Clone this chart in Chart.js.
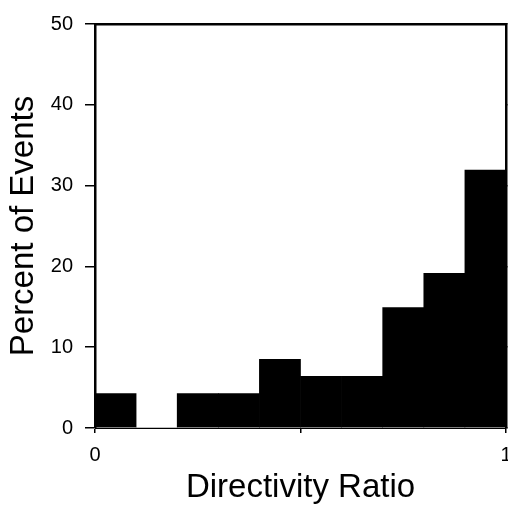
<!DOCTYPE html>
<html lang="en">
<head>
  <meta charset="UTF-8" />
  <title>Directivity Ratio histogram</title>
  <script src="https://cdn.jsdelivr.net/npm/chart.js@4.4.0"></script>
  <style>
    body {
      margin: 0;
      background: white;
    }

    .chart-container {
      width: 508px;
      height: 508px;
    }
  </style>
</head>
<body>
  <div class="chart-container">
    <canvas id="histChart"></canvas>
  </div>

  <script>
    // bins of the directivity ratio, 0 to 1 in steps of 0.1
    const binLabels = ['0.0-0.1', '0.1-0.2', '0.2-0.3', '0.3-0.4', '0.4-0.5',
                       '0.5-0.6', '0.6-0.7', '0.7-0.8', '0.8-0.9', '0.9-1.0'];
    const percentValues = [4.26, 0, 4.26, 4.26, 8.51, 6.38, 6.38, 14.89, 19.15, 31.91];
    const xTickStep = 0.5;
    const xTickLabels = { 0: '0', 1: '1' };
    const yTickStep = 10;
    const yMax = 50;

    const font = "'Liberation Sans', Arial, sans-serif";

    // keep the last x label from pushing the plot inwards
    function noSidePadding(scale) {
      scale.paddingLeft = 0;
      scale.paddingRight = 0;
    }

    const canvas = document.getElementById('histChart');
    const chart = new Chart(canvas.getContext('2d'), {
      type: 'bar',
      data: {
        labels: binLabels,
        datasets: [{
          data: percentValues,
          backgroundColor: 'black',
          borderWidth: 0,
          barPercentage: 1,
          categoryPercentage: 1,
          xAxisID: 'x',
          yAxisID: 'y'
        }]
      },
      options: {
        responsive: true,
        maintainAspectRatio: false,
        animation: false,
        layout: { padding: 0 },
        plugins: {
          legend: { display: false },
          tooltip: { enabled: false }
        },
        scales: {
          x: { display: false },
          xTicks: {
            type: 'linear',
            position: 'bottom',
            min: 0, max: 1,
            offset: false,
            ticks: {
              stepSize: xTickStep,
              color: 'black',
              font: { family: font, size: 20 },
              padding: 10,
              maxRotation: 0,
              callback: v => xTickLabels[v] ?? ''
            },
            grid: { offset: false, drawOnChartArea: false, tickLength: 5, color: 'black', lineWidth: 1.5 },
            border: { color: 'black', width: 1 },
            title: {
              display: true,
              text: 'Directivity Ratio',
              color: 'black',
              font: { family: font, size: 33 },
              padding: { top: 4, bottom: 0 }
            },
            afterFit: scale => { scale.height = 80; noSidePadding(scale); }
          },
          xTop: {
            type: 'linear',
            position: 'top',
            min: 0, max: 1,
            offset: false,
            ticks: { display: false },
            grid: { display: false },
            border: { color: 'black', width: 2.5 },
            afterFit: scale => { scale.height = 20; noSidePadding(scale); }
          },
          y: {
            position: 'left',
            min: 0, max: yMax,
            ticks: {
              stepSize: yTickStep,
              color: 'black',
              font: { family: font, size: 20 },
              padding: 12
            },
            grid: { drawOnChartArea: false, tickLength: 10, color: 'black', lineWidth: 1.5 },
            border: { color: 'black', width: 2.5 },
            title: {
              display: true,
              text: 'Percent of Events',
              color: 'black',
              font: { family: font, size: 33 },
              padding: { top: 4, bottom: 0 }
            },
            afterFit: scale => { scale.width = 95; }
          },
          yRight: {
            position: 'right',
            min: 0, max: yMax,
            ticks: { display: false, stepSize: yTickStep },
            grid: { drawOnChartArea: false, tickLength: 4, color: 'black', lineWidth: 1.5 },
            border: { color: 'black', width: 2.5 },
            afterFit: scale => { scale.width = 2; }
          }
        }
      }
    });
  </script>
</body>
</html>
